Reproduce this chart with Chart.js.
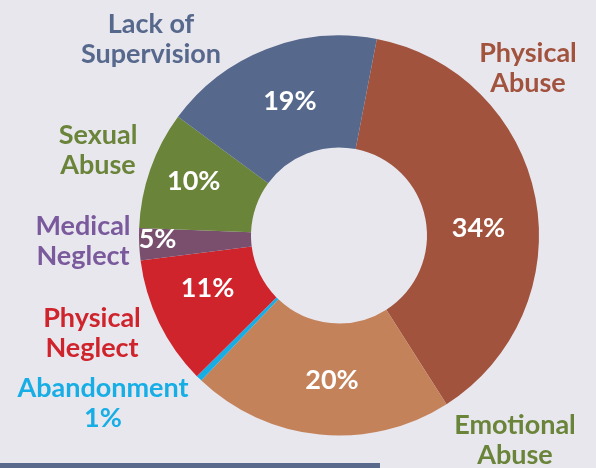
<!DOCTYPE html>
<html>
<head>
<meta charset="utf-8">
<script src="https://cdn.jsdelivr.net/npm/chart.js@4"></script>
<style>
  html, body { margin: 0; padding: 0; background: #e8e7ee; }
  #wrap { position: relative; width: 596px; height: 468px; overflow: hidden; }
  #bar { position: absolute; left: 0; top: 463px; width: 380px; height: 5px; background: #58698b; }
</style>
</head>
<body>
<div id="wrap">
  <canvas id="pie" width="596" height="468"></canvas>
  <div id="bar"></div>
</div>
<script>
// categories, clockwise from just right of 12 o'clock
const categories = ['Physical Abuse', 'Emotional Abuse', 'Abandonment', 'Physical Neglect',
                    'Medical Neglect', 'Sexual Abuse', 'Lack of Supervision'];
// slice sizes as drawn in the picture (share of the ring)
const shares = [37.9, 21.1, 0.5, 10.4, 2.6, 9.5, 17.9];
// percentages printed on the chart
const pctLabels = ['34%', '20%', '1%', '11%', '5%', '10%', '19%'];

const sliceColors = ['#a1533e', '#c4825a', '#17aee6', '#d0242d', '#794f6d', '#6a843a', '#56688c'];
const textColors  = ['#a1533e', '#6a843a', '#17aee6', '#d0242d', '#7a5a9c', '#6a843a', '#56688c'];

// outside category captions: [center x, first baseline], lines
const captions = [
  { x: 528, y: 62,  lines: ['Physical', 'Abuse'] },
  { x: 515, y: 434, lines: ['Emotional', 'Abuse'] },
  { x: 103, y: 397, lines: ['Abandonment', '1%'] },
  { x: 92,  y: 327, lines: ['Physical', 'Neglect'] },
  { x: 83,  y: 235, lines: ['Medical', 'Neglect'] },
  { x: 98,  y: 144, lines: ['Sexual', 'Abuse'] },
  { x: 151, y: 33,  lines: ['Lack of', 'Supervision'] }
];
// nudges for the percentage inside each slice: degrees along the ring, radius factor
const insideNudge = [
  { da: 7.5, rf: 0.97 }, { da: -2.7, rf: 1.0 }, null, { da: 4.6, rf: 0.98 },
  { da: 1.7, rf: 1.26 }, { da: 1.6, rf: 1.08 }, { da: 1.4, rf: 1.0 }
];

const FONT = 'Lato, "Open Sans", sans-serif';

const labelPlugin = {
  id: 'labels',
  afterDraw(chart) {
    const ctx = chart.ctx;
    const arcs = chart.getDatasetMeta(0).data;
    ctx.save();
    ctx.textAlign = 'center';

    // percentages inside the ring
    ctx.font = 'bold 27px ' + FONT;
    ctx.fillStyle = '#ffffff';
    ctx.textBaseline = 'middle';
    arcs.forEach((arc, i) => {
      const n = insideNudge[i];
      if (!n) return;
      const p = arc.getProps(['x', 'y', 'startAngle', 'endAngle', 'innerRadius', 'outerRadius'], true);
      const a = (p.startAngle + p.endAngle) / 2 + n.da * Math.PI / 180;
      const r = (p.innerRadius + p.outerRadius) / 2 * n.rf;
      ctx.fillText(pctLabels[i], p.x + Math.cos(a) * r, p.y + Math.sin(a) * r + 1);
    });

    // category captions outside
    ctx.font = 'bold 27px ' + FONT;
    ctx.textBaseline = 'alphabetic';
    captions.forEach((c, i) => {
      ctx.fillStyle = textColors[i];
      c.lines.forEach((line, k) => ctx.fillText(line, c.x, c.y + k * 30));
    });
    ctx.restore();
  }
};

new Chart(document.getElementById('pie').getContext('2d'), {
  type: 'doughnut',
  data: {
    labels: categories,
    datasets: [{
      data: shares,
      backgroundColor: sliceColors,
      borderWidth: 0
    }]
  },
  options: {
    responsive: false,
    animation: false,
    rotation: 10.9,
    cutout: '44%',
    layout: { padding: { left: 139, right: 57, top: 35, bottom: 32 } },
    plugins: {
      legend: { display: false },
      tooltip: { enabled: false }
    }
  },
  plugins: [labelPlugin]
});
</script>
</body>
</html>
